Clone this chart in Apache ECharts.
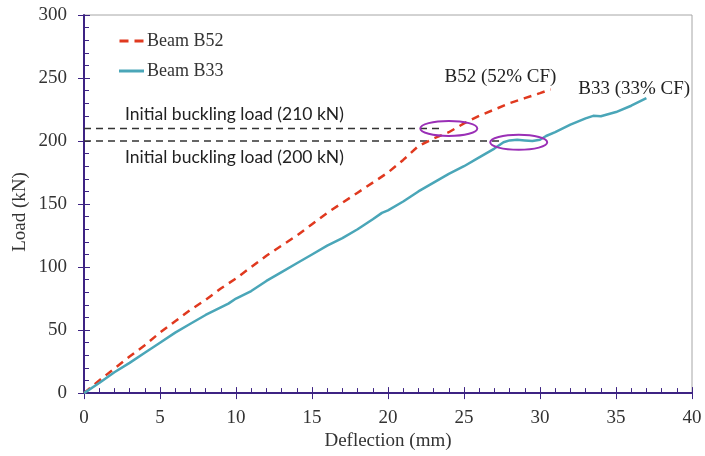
<!DOCTYPE html>
<html>
<head>
<meta charset="utf-8">
<script src="https://cdn.jsdelivr.net/npm/echarts@6/dist/echarts.min.js"></script>
<style>
  html, body { margin: 0; padding: 0; background: #fff; }
  #chart { width: 705px; height: 456px; }
</style>
</head>
<body>
<div id="chart"></div>
<script>
// Load–deflection response of the two beams
const deflB52 = [0, 0.5, 1, 2, 3, 4, 5, 6, 7, 8, 9, 10, 11, 12, 13, 14, 15, 16, 17, 18, 19, 20, 21, 22, 23, 24, 25, 26, 27, 28, 29, 30, 30.7];
const loadB52 = [0, 5, 10, 19.5, 29, 38, 48, 57, 66, 74, 83, 91, 100, 109, 117, 125, 134, 143, 151, 159, 167, 175, 185, 196, 202, 207, 214, 220, 225, 230, 234, 238, 241];

const deflB33 = [0, 1, 2, 3, 4, 5, 6, 7, 8, 9, 9.5, 10, 11, 12, 13, 14, 15, 16, 17, 18, 19, 19.6, 20, 21, 22, 23, 24, 25, 26, 27, 27.6, 28, 28.5, 29, 29.5, 30, 30.4, 31, 32, 33, 33.5, 34, 35, 36, 37];
const loadB33 = [0, 8, 16.5, 24, 32, 40, 48, 55, 62, 68, 71, 75, 81, 89, 96, 103, 110, 117, 123, 130, 138, 143, 145, 152, 160, 167, 174, 180, 187, 194, 199, 200.5, 201, 200.5, 200, 201, 204, 207, 213, 218, 220, 219.7, 223, 228, 234];

// Initial buckling loads and where their guide lines stop
const bucklingLoads = [210, 200];
const guideEnds = [23.6, 27.4];

// Points highlighted with ellipses (deflection, load)
const highlightX = [24.0, 28.6];
const highlightY = [210, 199];

const seriesNames = ['Beam B52', 'Beam B33'];
const xTickStep = 5;
const yTickStep = 50;

const serif = '"Liberation Serif", "Times New Roman", serif';
const sans = 'Lato, "Open Sans", sans-serif';
const axisColor = '#3d2383';
const redColor = '#e0391f';
const tealColor = '#4aa6b8';

function pairs(xs, ys) { return xs.map((x, i) => [x, ys[i]]); }

// Text notes anchored in data space
const notes = [
  { text: 'Initial buckling load (210 kN)', at: [2.7, 221], font: '17.5px ' + sans, align: 'left' },
  { text: 'Initial buckling load (200 kN)', at: [2.7, 187], font: '17.5px ' + sans, align: 'left' },
  { text: 'B52 (52% CF)', at: [27.4, 250.5], font: '19px ' + serif, align: 'center' },
  { text: 'B33 (33% CF)', at: [36.2, 241], font: '19px ' + serif, align: 'center' }
];

const chart = echarts.init(document.getElementById('chart'), null, { renderer: 'canvas' });

const guideSeries = bucklingLoads.map((load, i) => ({
  name: 'guide' + load,
  type: 'line',
  data: [[0, load], [guideEnds[i], load]],
  symbol: 'none',
  silent: true,
  lineStyle: { color: '#333', width: 1.5, type: [7, 5] },
  z: 1
}));

chart.setOption({
  animation: false,
  backgroundColor: '#fff',
  grid: {
    left: 84, right: 13, top: 15, bottom: 62,
    show: true, borderColor: '#a6a6a6', borderWidth: 1
  },
  legend: {
    data: [
      { name: seriesNames[0], icon: 'path://M0,0h9v3h-9z M15,0h9v3h-9z' },
      { name: seriesNames[1], icon: 'path://M0,0h25v3h-25z' }
    ],
    orient: 'vertical',
    left: 114, top: 27,
    itemWidth: 25, itemHeight: 3, itemGap: 12,
    textStyle: { fontFamily: serif, fontSize: 18, color: '#333', padding: [0, 0, 0, -2] }
  },
  xAxis: [
    {
      type: 'value', min: 0, max: 40, interval: xTickStep,
      name: 'Deflection (mm)', nameLocation: 'middle', nameGap: 34,
      nameTextStyle: { fontFamily: serif, fontSize: 19, color: '#333' },
      axisLine: { lineStyle: { color: axisColor, width: 2 } },
      axisTick: { inside: true, length: 6, lineStyle: { color: axisColor } },
      minorTick: { show: true, splitNumber: 5, length: 5, lineStyle: { color: axisColor } },
      axisLabel: { fontFamily: serif, fontSize: 19, color: '#333', margin: 15 },
      splitLine: { show: false }
    },
    {
      type: 'value', min: 0, max: 40, interval: xTickStep, position: 'bottom',
      axisLine: { show: false },
      axisTick: { inside: false, length: 6, lineStyle: { color: axisColor } },
      axisLabel: { show: false },
      splitLine: { show: false }
    }
  ],
  yAxis: [
    {
      type: 'value', min: 0, max: 300, interval: yTickStep,
      axisLine: { lineStyle: { color: axisColor, width: 2 } },
      axisTick: { inside: true, length: 6, lineStyle: { color: axisColor } },
      minorTick: { show: true, splitNumber: 5, length: 5, lineStyle: { color: axisColor } },
      axisLabel: { fontFamily: serif, fontSize: 19, color: '#333', margin: 17 },
      splitLine: { show: false }
    },
    {
      type: 'value', min: 0, max: 300, interval: yTickStep, position: 'left',
      axisLine: { show: false },
      axisTick: { inside: false, length: 6, lineStyle: { color: axisColor } },
      axisLabel: { show: false },
      splitLine: { show: false }
    }
  ],
  graphic: [
    {
      type: 'text', x: 20, y: 212, rotation: Math.PI / 2,
      style: { text: 'Load (kN)', font: '19px ' + serif, fill: '#333', align: 'center', verticalAlign: 'middle' }
    }
  ],
  series: [
    ...guideSeries,
    {
      name: seriesNames[0],
      type: 'line',
      data: pairs(deflB52, loadB52),
      symbol: 'none',
      lineStyle: { color: redColor, width: 2.5, type: [8, 6] },
      itemStyle: { color: redColor },
      z: 3
    },
    {
      name: seriesNames[1],
      type: 'line',
      data: pairs(deflB33, loadB33),
      symbol: 'none',
      lineStyle: { color: tealColor, width: 2.5 },
      itemStyle: { color: tealColor },
      z: 3
    },
    {
      name: 'highlight',
      type: 'custom',
      silent: true,
      data: pairs(highlightX, highlightY),
      renderItem: function (params, api) {
        const c = api.coord([api.value(0), api.value(1)]);
        return {
          type: 'ellipse',
          shape: { cx: c[0], cy: c[1], rx: 28.5, ry: 7.5 },
          style: { fill: 'none', stroke: '#9a2fb6', lineWidth: 2 }
        };
      },
      z: 4
    },
    {
      name: 'notes',
      type: 'custom',
      silent: true,
      data: notes.map(n => n.at),
      renderItem: function (params, api) {
        const n = notes[params.dataIndex];
        const c = api.coord([api.value(0), api.value(1)]);
        return {
          type: 'text',
          style: { text: n.text, x: c[0], y: c[1], font: n.font, fill: '#222', align: n.align, verticalAlign: 'middle' }
        };
      },
      z: 5
    }
  ]
});
</script>
</body>
</html>
